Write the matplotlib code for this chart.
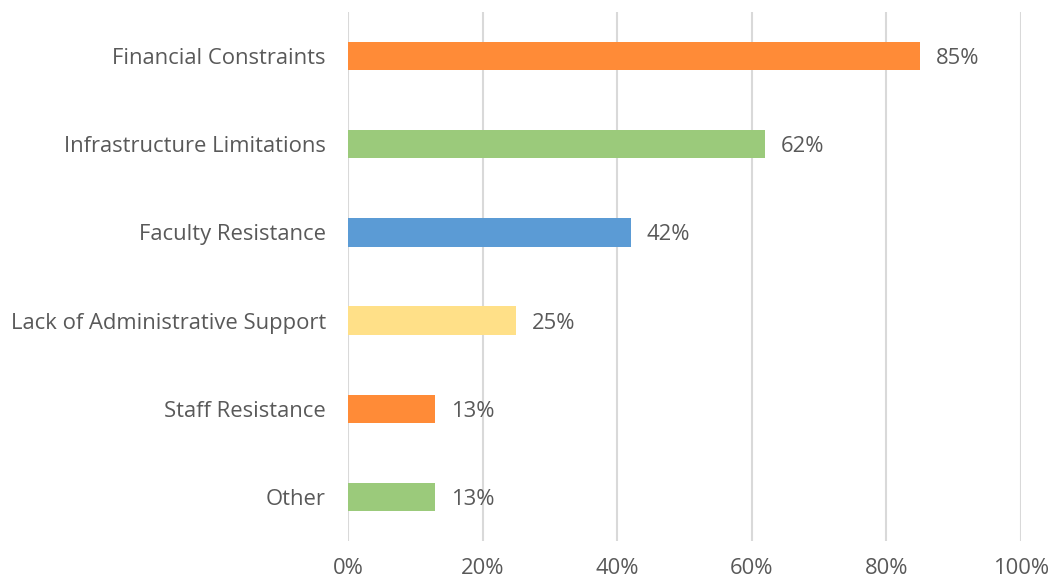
import matplotlib
matplotlib.use("Agg")
import matplotlib.pyplot as plt

categories = ["Financial Constraints", "Infrastructure Limitations", "Faculty Resistance",
              "Lack of Administrative Support", "Staff Resistance", "Other"]
values = [85, 62, 42, 25, 13, 13]
colors = ["#FF8B37", "#9BCA7B", "#5B9BD5", "#FFE088", "#FF8B37", "#9BCA7B"]
xticks = [0, 20, 40, 60, 80, 100]
xticklabels = ["0%", "20%", "40%", "60%", "80%", "100%"]

plt.rcParams['font.family'] = ['Open Sans', 'DejaVu Sans']
text_color = "#595959"
fs = 15.8

fig = plt.figure(figsize=(10.52, 5.82), dpi=100)
ax = fig.add_axes([348/1052, 1 - 541/582, (1021-348)/1052, (541-12)/582])

y = list(range(len(categories)))
ax.barh(y, values, height=0.32, color=colors, zorder=3)
for yi, v in zip(y, values):
    ax.text(v + 2.3, yi, f"{v}%", va="center_baseline", ha="left", fontsize=fs, color=text_color)

ax.set_ylim(len(categories) - 0.5, -0.5)
ax.set_xlim(0, 100)
ax.set_yticks(y)
ax.set_yticklabels(categories, fontsize=fs, color=text_color)
ax.set_xticks(xticks)
ax.set_xticklabels(xticklabels, fontsize=fs, color=text_color)
ax.tick_params(axis="both", length=0)
ax.tick_params(axis="y", pad=16)
ax.tick_params(axis="x", pad=12)
ax.grid(axis="x", color="#D9D9D9", linewidth=1.5, zorder=0)
for s in ax.spines.values():
    s.set_visible(False)

fig.savefig("out.png", dpi=100)
